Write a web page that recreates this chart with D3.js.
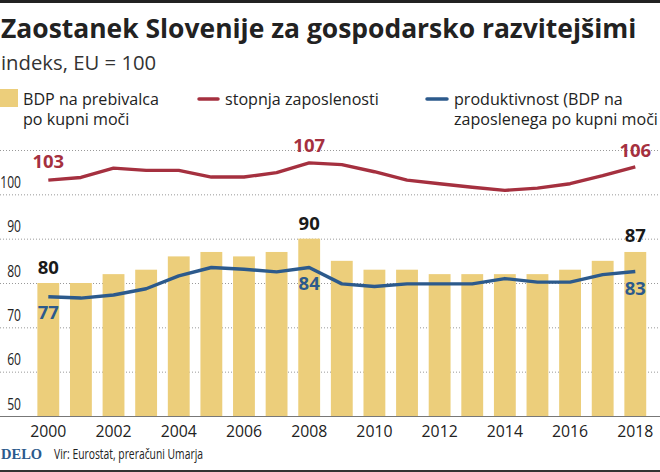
<!DOCTYPE html>
<html>
<head>
<meta charset="utf-8">
<script src="https://cdn.jsdelivr.net/npm/d3@7"></script>
<style>
  html, body { margin: 0; padding: 0; background: #fff; }
  svg { display: block; }
  text { font-family: 'Open Sans', sans-serif; fill: #222; }
</style>
</head>
<body>
<div id="chart"></div>
<script>
// data
const years = [2000, 2001, 2002, 2003, 2004, 2005, 2006, 2007, 2008, 2009, 2010, 2011, 2012, 2013, 2014, 2015, 2016, 2017, 2018]
const bdp = [80, 80, 82, 83, 86, 87, 86, 87, 90, 85, 83, 83, 82, 82, 82, 82, 83, 85, 87]
const zaposlenost = [103.2, 103.8, 105.9, 105.4, 105.4, 103.9, 103.9, 104.9, 107.1, 106.7, 105.1, 103.2, 102.4, 101.6, 100.9, 101.4, 102.4, 104.2, 106.2]
const produktivnost = [76.9, 76.6, 77.3, 78.7, 81.6, 83.5, 83.1, 82.5, 83.5, 79.8, 79.2, 79.8, 79.8, 79.8, 81, 80.2, 80.2, 81.9, 82.6]
const yTicks = [50, 60, 70, 80, 90, 100, 110]
const xTicks = [2000, 2002, 2004, 2006, 2008, 2010, 2012, 2014, 2016, 2018]
const bdpLabels = [[2000, 80], [2008, 90], [2018, 87]]
const zapLabels = [[2000, 103], [2008, 107], [2018, 106]]
const proLabels = [[2000, 77], [2008, 84], [2018, 83]]

// colors
const gold = '#ecce7b'
const red = '#a5303f'
const blue = '#2c5a8c'

// size
const width = 660
const height = 472

// scale
const y = d3.scaleLinear().domain([50, 110]).range([416, 150])
const x = d3.scaleBand().domain(years).range([32, 651.6]).paddingInner(0.33).paddingOuter(0.165)
const cx = v => x(v) + x.bandwidth() / 2

const svg = d3.select('#chart').append('svg').attr('width', width).attr('height', height)

// frame lines
svg.append('rect').attr('x', 0).attr('y', 0).attr('width', width).attr('height', 3).attr('fill', '#222')
svg.append('rect').attr('x', 0).attr('y', 470).attr('width', width).attr('height', 2).attr('fill', '#333')

// title
svg.append('text').attr('x', 1).attr('y', 37.5)
  .attr('font-size', '26.45px').attr('font-weight', 700)
  .text('Zaostanek Slovenije za gospodarsko razvitejšimi')

svg.append('text').attr('x', 1).attr('y', 70)
  .attr('font-size', '20.3px')
  .style('fill', '#333')
  .text('indeks, EU = 100')

// legend
svg.append('rect').attr('x', 0).attr('y', 89).attr('width', 18).attr('height', 18).attr('fill', gold)

const legendText = [
  [23, 105, 'BDP na prebivalca'],
  [23, 125, 'po kupni moči'],
  [225, 105, 'stopnja zaposlenosti'],
  [454, 105, 'produktivnost (BDP na'],
  [454, 125, 'zaposlenega po kupni moči'],
]
legendText.forEach(d => {
  svg.append('text').attr('x', d[0]).attr('y', d[1]).attr('font-size', '16.1px').text(d[2])
})

const legendLines = [[199, 218, red], [427, 447, blue]]
legendLines.forEach(d => {
  svg.append('line').attr('x1', d[0]).attr('x2', d[1]).attr('y1', 99).attr('y2', 99)
    .attr('stroke', d[2]).attr('stroke-width', 3.5).attr('stroke-linecap', 'round')
})

// y-axis with the grid
const yAxis = svg.append('g').attr('class', 'y-axis')
  .call(d3.axisRight(y).tickValues(yTicks).tickSize(width))
yAxis.select('.domain').remove()
yAxis.selectAll('.tick line')
  .attr('stroke', '#999').attr('stroke-width', 1).attr('stroke-dasharray', '1 2')
yAxis.selectAll('.tick').filter(d => d === 50).select('line').remove()
yAxis.selectAll('.tick').filter(d => d === 110).select('text').remove()
// condensed digits, the narrow face of the original is not installed
yAxis.selectAll('.tick text')
  .attr('x', 21).attr('dy', -7)
  .attr('text-anchor', 'end')
  .attr('font-size', '15.5px')
  .attr('lengthAdjust', 'spacingAndGlyphs')
  .attr('textLength', d => String(d).length * 6.9)

// bars
svg.selectAll('rect.bar').data(years).enter().append('rect')
  .attr('class', 'bar')
  .attr('x', d => x(d))
  .attr('y', (d, i) => y(bdp[i]))
  .attr('width', x.bandwidth())
  .attr('height', (d, i) => y(50) - y(bdp[i]))
  .attr('fill', gold)

// x-axis
const xAxis = svg.append('g').attr('transform', `translate(0, ${y(50)})`)
  .call(d3.axisBottom(x).tickValues(xTicks).tickSize(0).tickPadding(10))
xAxis.select('.domain').attr('d', `M0,0.5H${width}`).attr('stroke', '#777')
xAxis.selectAll('.tick text').attr('font-size', '15.8px').style('font-family', "'Open Sans', sans-serif")

// lines
const line = d3.line().x((d, i) => cx(years[i])).y(d => y(d))
const series = [[zaposlenost, red], [produktivnost, blue]]
series.forEach(s => {
  svg.append('path').datum(s[0])
    .attr('d', line)
    .attr('fill', 'none')
    .attr('stroke', s[1])
    .attr('stroke-width', 3.4)
    .attr('stroke-linejoin', 'round')
})

// value labels
function labels(rows, color, dy) {
  rows.forEach((d, i) => {
    svg.append('text')
      .attr('x', cx(d[0]))
      .attr('y', y(d[1]) + dy[i])
      .attr('text-anchor', 'middle')
      .attr('font-size', '18.5px')
      .attr('font-weight', 700)
      .style('fill', color)
      .text(d[1])
  })
}
labels(bdpLabels, '#1a1a1a', [-9, -9, -10])
labels(zapLabels, red, [-13, -11, -11])
labels(proLabels, blue, [23, 25, 25])

// source
svg.append('text').attr('x', 1).attr('y', 459)
  .attr('font-size', '14.5px').attr('font-weight', 700)
  .style('font-family', "'Liberation Serif', serif").style('fill', blue)
  .text('DELO')
svg.append('text').attr('x', 54).attr('y', 459)
  .attr('font-size', '14.5px')
  .attr('lengthAdjust', 'spacingAndGlyphs')
  .attr('textLength', 149)
  .text('Vir: Eurostat, preračuni Umarja')
</script>
</body>
</html>
